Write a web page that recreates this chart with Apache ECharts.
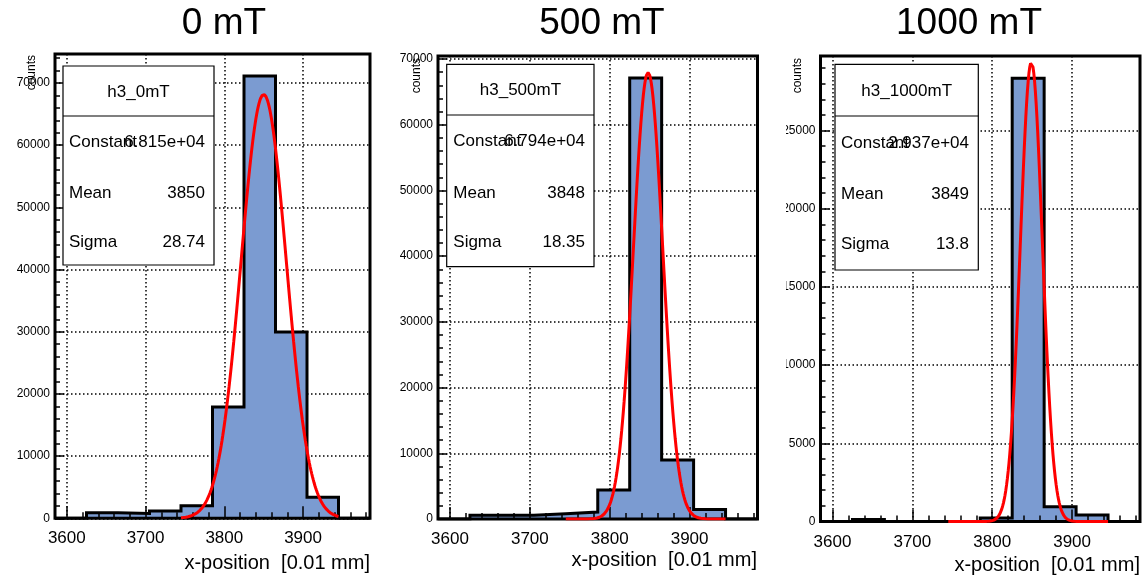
<!DOCTYPE html>
<html>
<head>
<meta charset="utf-8">
<script src="https://cdn.jsdelivr.net/npm/echarts@6/dist/echarts.min.js"></script>
<style>
  html, body { margin: 0; padding: 0; background: #fff; width: 1145px; height: 577px; overflow: hidden; position: relative; }
  .pad { position: absolute; top: 0; height: 577px; }
</style>
</head>
<body>
<div id="pad0" class="pad" style="left:17px;width:364px"></div>
<div id="pad1" class="pad" style="left:385px;width:378px"></div>
<div id="pad2" class="pad" style="left:786px;width:359px"></div>
<script>
// Histogram binning of the x-position [0.01 mm]
const binEdges = [3585, 3625, 3665, 3705, 3745, 3785, 3825, 3865, 3905, 3945, 3985];

// Bin contents (counts) for each magnetic field
const counts0mT    = [0, 910, 760, 1180, 2030, 17900, 71100, 29950, 3370, 0];
const counts500mT  = [0, 580, 580, 800, 1050, 4400, 67100, 8980, 1450, 0];
const counts1000mT = [0, 130, 0, 0, 0, 230, 28350, 945, 415, 0];

const panelTitles = ['0 mT', '500 mT', '1000 mT'];
const histNames   = ['h3_0mT', 'h3_500mT', 'h3_1000mT'];

// Gaussian fit results shown in the stats boxes
const fitConstant = [68150, 67940, 29370];
const fitMean     = [3850, 3848, 3849];
const fitSigma    = [28.74, 18.35, 13.8];
const fitRange    = [3745, 3945];

const yTickStep  = [10000, 10000, 5000];
const xAxisTitle = 'x-position  [0.01 mm]';
const yAxisTitle = 'counts';
const statNames  = ['Constant', 'Mean', 'Sigma'];

const allCounts = [counts0mT, counts500mT, counts1000mT];

// Pad layout (pixels, local to each pad)
const layout = [
  { grid: { left: 38, top: 54, width: 315, height: 464.3 }, titleX: 207, countsPos: [14.5, 55], xTitlePos: [353, 563],
    box: { x: 46, y: 66, w: 151, h: 199, div: 116, titleX: 121.5, titleY: 92, nameX: 52, valX: 188, rows: [142, 193, 242] } },
  { grid: { left: 53, top: 56, width: 319.5, height: 463 }, titleX: 217, countsPos: [32, 58], xTitlePos: [372, 560],
    box: { x: 61.7, y: 64.3, w: 147.3, h: 202.4, div: 115, titleX: 135.4, titleY: 90, nameX: 68.3, valX: 200, rows: [141.7, 193.3, 242.3] } },
  { grid: { left: 34.5, top: 56, width: 319.5, height: 465.5 }, titleX: 183, countsPos: [12, 58], xTitlePos: [354, 565],
    box: { x: 49, y: 64.3, w: 143.3, h: 205.7, div: 116, titleX: 120.7, titleY: 91.7, nameX: 55, valX: 183, rows: [143.3, 194, 244] } }
];

const FONT = '"Liberation Sans", Arial, Helvetica, sans-serif';

function fmtStat(v) {
  if (Math.abs(v) >= 1e4) {
    const parts = v.toExponential(3).split('e');
    const exp = parts[1];
    const sign = exp[0];
    let digits = exp.slice(1);
    if (digits.length < 2) digits = '0' + digits;
    return parts[0] + 'e' + sign + digits;
  }
  return String(parseFloat(v.toPrecision(4)));
}

// Evaluate the fitted Gaussian over the fit range
function fitCurve(i) {
  const pts = [];
  const n = 200;
  for (let k = 0; k <= n; k++) {
    const x = fitRange[0] + (fitRange[1] - fitRange[0]) * k / n;
    const z = (x - fitMean[i]) / fitSigma[i];
    pts.push([x, fitConstant[i] * Math.exp(-0.5 * z * z)]);
  }
  return pts;
}

function textEl(x, y, text, size, align, extra) {
  return Object.assign({ type: 'text', z: 11, x: x, y: y,
    style: { text: text, font: size + 'px ' + FONT, fill: '#000', align: align, verticalAlign: 'middle', textAlign: align, textVerticalAlign: 'middle' } }, extra || {});
}

function buildOption(i) {
  const L = layout[i];
  const counts = allCounts[i];
  const ymax = 1.05 * Math.max.apply(null, counts);
  const hist = binEdges.map((e, k) => [e, counts[Math.min(k, counts.length - 1)]]);
  const dotted = { color: '#000', width: 1.5, type: [1.5, 2.5] };
  const tickStyle = { color: '#000', width: 1.5 };
  const plain = v => String(v);
  const xBase = { type: 'value', min: binEdges[0], max: binEdges[binEdges.length - 1], splitNumber: 4 };
  const yBase = { type: 'value', min: 0, max: ymax, interval: yTickStep[i] };
  const g = L.grid, b = L.box;

  const graphic = [
    { type: 'rect', z: 3, shape: { x: g.left, y: g.top, width: g.width, height: g.height },
      style: { fill: 'none', stroke: '#000', lineWidth: 3 } },
    textEl(L.titleX, 24, panelTitles[i], 37, 'center'),
    textEl(L.countsPos[0], L.countsPos[1], yAxisTitle, 12, 'right', { rotation: Math.PI / 2 }),
    textEl(L.xTitlePos[0], L.xTitlePos[1], xAxisTitle, 20, 'right'),
    // stats box
    { type: 'rect', z: 10, shape: { x: b.x, y: b.y, width: b.w, height: b.h },
      style: { fill: '#fff', stroke: '#000', lineWidth: 1.2 } },
    { type: 'line', z: 11, shape: { x1: b.x, y1: b.div, x2: b.x + b.w, y2: b.div },
      style: { stroke: '#000', lineWidth: 1.2 } },
    textEl(b.titleX, b.titleY, histNames[i], 17, 'center')
  ];
  const statVals = [fitConstant[i], fitMean[i], fitSigma[i]];
  statNames.forEach((nm, r) => {
    graphic.push(textEl(b.nameX, b.rows[r], nm, 17, 'left'));
    graphic.push(textEl(b.valX, b.rows[r], fmtStat(statVals[r]), 17, 'right'));
  });

  return {
    animation: false,
    backgroundColor: '#fff',
    grid: { left: g.left, top: g.top, width: g.width, height: g.height, containLabel: false, outerBoundsMode: 'none', show: false },
    xAxis: [
      Object.assign({}, xBase, {
        position: 'top', z: 0,
        axisLine: { show: false }, axisTick: { show: false }, axisLabel: { show: false },
        splitLine: { show: true, lineStyle: dotted }
      }),
      Object.assign({}, xBase, {
        position: 'bottom', z: 4,
        axisLine: { show: false },
        axisTick: { show: true, inside: true, length: 12, lineStyle: tickStyle },
        minorTick: { show: true, splitNumber: 5, length: 6, lineStyle: tickStyle },
        axisLabel: { show: true, margin: 12, color: '#000', fontSize: 17, fontFamily: FONT, formatter: plain,
          showMinLabel: false, showMaxLabel: false, hideOverlap: false },
        splitLine: { show: false }
      })
    ],
    yAxis: [
      Object.assign({}, yBase, {
        position: 'right', z: 0,
        axisLine: { show: false }, axisTick: { show: false }, axisLabel: { show: false },
        splitLine: { show: true, lineStyle: dotted }
      }),
      Object.assign({}, yBase, {
        position: 'left', z: 4,
        axisLine: { show: false },
        axisTick: { show: true, inside: true, length: 9, lineStyle: tickStyle },
        minorTick: { show: true, splitNumber: 5, length: 5, lineStyle: tickStyle },
        axisLabel: { show: true, margin: 5, color: '#000', fontSize: 12, fontFamily: FONT, formatter: plain,
          showMinLabel: true, showMaxLabel: false, hideOverlap: false },
        splitLine: { show: false }
      })
    ],
    series: [
      { type: 'line', name: histNames[i], xAxisIndex: 1, yAxisIndex: 1, data: hist, step: 'end',
        symbol: 'none', showSymbol: false, z: 2,
        lineStyle: { color: '#000', width: 3, join: 'miter' },
        areaStyle: { color: '#7b9bd1', opacity: 1 } },
      { type: 'line', name: 'gaus', xAxisIndex: 1, yAxisIndex: 1, data: fitCurve(i),
        symbol: 'none', showSymbol: false, smooth: false, z: 5,
        lineStyle: { color: '#ff0000', width: 3 } }
    ],
    graphic: graphic
  };
}

for (let i = 0; i < 3; i++) {
  const chart = echarts.init(document.getElementById('pad' + i), null, { renderer: 'canvas' });
  chart.setOption(buildOption(i));
}
</script>
</body>
</html>
